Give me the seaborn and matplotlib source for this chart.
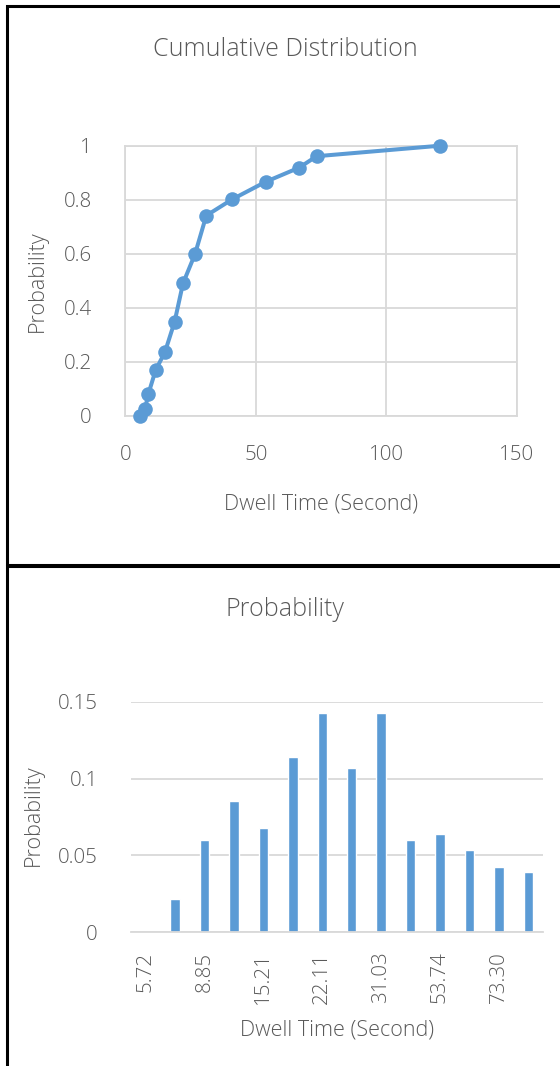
import matplotlib
matplotlib.use("Agg")
import matplotlib.pyplot as plt
import seaborn as sns
import pandas as pd
from matplotlib.patches import Rectangle

# ---- data ----
cdf_time = [5.72, 7.55, 8.85, 11.64, 15.21, 18.90, 22.11, 26.70, 31.03, 40.90, 53.74, 66.70, 73.30, 120.60]
cdf_prob = [0.0, 0.024, 0.081, 0.169, 0.236, 0.348, 0.490, 0.598, 0.741, 0.801, 0.866, 0.919, 0.961, 1.0]

bin_labels = ["5.72", "7.55", "8.85", "11.64", "15.21", "18.90", "22.11",
              "26.70", "31.03", "40.90", "53.74", "66.70", "73.30", "120.60"]
bin_prob = [0.0, 0.0215, 0.0602, 0.0854, 0.0676, 0.1138, 0.1424,
            0.1066, 0.1424, 0.0602, 0.0639, 0.0533, 0.0425, 0.039]

top_xticks = [0, 50, 100, 150]
top_yticks = [0, 0.2, 0.4, 0.6, 0.8, 1.0]
top_yticklabels = ["0", "0.2", "0.4", "0.6", "0.8", "1"]
bot_yticks = [0, 0.05, 0.1, 0.15]
bot_yticklabels = ["0", "0.05", "0.1", "0.15"]

BLUE = "#5B9BD5"
TXT = "#595959"
GRID = "#D9D9D9"

sns.set_theme(style="white")
plt.rcParams["font.family"] = ["Open Sans", "DejaVu Sans"]
plt.rcParams["font.weight"] = "light"

W, H = 560, 1066
fig = plt.figure(figsize=(W / 100, H / 100), dpi=100)

def fx(px):
    return px / W

def fy(py):
    return 1 - py / H

TICK_FS = 14.8
LAB_FS = 15.5
TITLE_FS = 18

# panel borders
fig.add_artist(Rectangle((fx(7), fy(565)), fx(600), fy(6) - fy(565), transform=fig.transFigure,
                         fill=False, edgecolor="black", linewidth=2.2))
fig.add_artist(Rectangle((fx(7), fy(1100)), fx(600), fy(566) - fy(1100), transform=fig.transFigure,
                         fill=False, edgecolor="black", linewidth=2.2))

# ---- top: cumulative distribution ----
ax1 = fig.add_axes([fx(125.3), fy(415.7), fx(516.7) - fx(125.3), fy(145.7) - fy(415.7)])
df1 = pd.DataFrame({"time": cdf_time, "prob": cdf_prob})
ax1.set_xlim(0, 150)
ax1.set_ylim(0, 1)
ax1.set_xticks(top_xticks)
ax1.set_yticks(top_yticks)
ax1.set_yticklabels(top_yticklabels)
ax1.grid(True, color=GRID, linewidth=1.3)
ax1.set_axisbelow(True)
for s in ax1.spines.values():
    s.set_visible(True)
    s.set_color(GRID)
    s.set_linewidth(1.3)
sns.lineplot(data=df1, x="time", y="prob", ax=ax1, color=BLUE, linewidth=2.9,
             marker="o", markersize=10.5, markeredgewidth=0, clip_on=False, zorder=3)
ax1.tick_params(axis="both", length=0, labelsize=TICK_FS, labelcolor=TXT)
ax1.tick_params(axis="y", pad=24)
ax1.tick_params(axis="x", pad=21)
ax1.set_xlabel("")
ax1.set_ylabel("")

fig.text(fx(285), fy(50), "Cumulative Distribution", ha="center", va="center", fontsize=TITLE_FS, color=TXT)
fig.text(fx(321), fy(504), "Dwell Time (Second)", ha="center", va="center", fontsize=LAB_FS, color=TXT)
fig.text(fx(37), fy(281), "Probability", ha="center", va="center", rotation=90, fontsize=LAB_FS, color=TXT)

# ---- bottom: probability ----
ax2 = fig.add_axes([fx(131), fy(932.3), fx(543) - fx(131), fy(701.7) - fy(932.3)])
df2 = pd.DataFrame({"bin": bin_labels, "prob": bin_prob})
sns.barplot(data=df2, x="bin", y="prob", order=bin_labels, ax=ax2, color=BLUE,
            saturation=1, width=0.317)
ax2.set_xlim(-0.5, len(bin_labels) - 0.5)
ax2.set_ylim(0, 0.15)
ax2.set_yticks(bot_yticks)
ax2.set_yticklabels(bot_yticklabels)
ax2.yaxis.grid(True, color=GRID, linewidth=1.3)
ax2.xaxis.grid(False)
ax2.set_axisbelow(True)
for k, s in ax2.spines.items():
    s.set_visible(k == "bottom")
ax2.spines["bottom"].set_color(GRID)
ax2.spines["bottom"].set_linewidth(1.3)
ax2.set_xticks(list(range(0, len(bin_labels), 2)))
ax2.set_xticklabels(bin_labels[::2], rotation=90)
ax2.tick_params(axis="both", length=0, labelsize=TICK_FS, labelcolor=TXT)
ax2.tick_params(axis="y", pad=24)
ax2.tick_params(axis="x", pad=14)
ax2.set_xlabel("")
ax2.set_ylabel("")

fig.text(fx(285), fy(610), "Probability", ha="center", va="center", fontsize=TITLE_FS, color=TXT)
fig.text(fx(337), fy(1030), "Dwell Time (Second)", ha="center", va="center", fontsize=LAB_FS, color=TXT)
fig.text(fx(33), fy(815), "Probability", ha="center", va="center", rotation=90, fontsize=LAB_FS, color=TXT)

fig.savefig("out.png", dpi=100)
